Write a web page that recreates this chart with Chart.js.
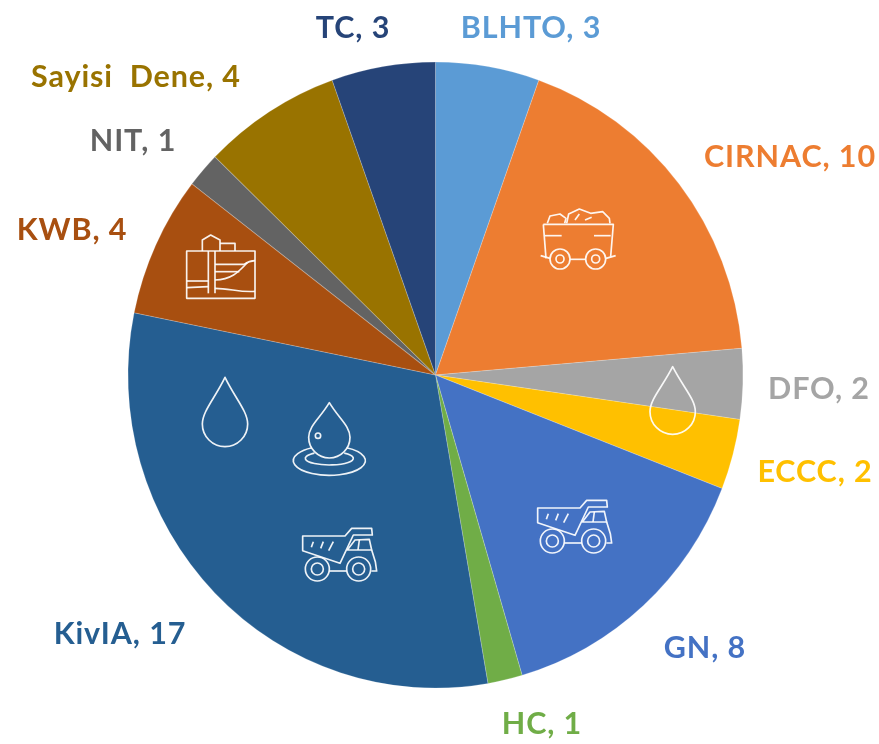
<!DOCTYPE html>
<html><head><meta charset="utf-8">
<style>html,body{margin:0;padding:0;background:#fff}canvas{display:block}</style>
<script src="https://cdn.jsdelivr.net/npm/chart.js@4"></script></head>
<body><canvas id="c" width="879" height="744"></canvas>
<script>
const categories = ["BLHTO","CIRNAC","DFO","ECCC","GN","HC","KivIA","KWB","NIT","Sayisi  Dene","TC"];
const values = [3,10,2,2,8,1,17,4,1,4,3];
const colors = ["#5B9BD5","#ED7D31","#A5A5A5","#FFC000","#4472C4","#70AD47","#255E91","#A84F10","#636363","#997300","#264478"];
const labelX = [531,790,819,815,705,542,120,72,133,136,353];
const labelY = [28,157,389,472,648,724,634,230,141,77,28];
const cx=435.5, cy=375, stretch=313/307.5;

function P(c,pts,close){c.beginPath();pts.forEach((p,i)=>i?c.lineTo(p[0],p[1]):c.moveTo(p[0],p[1]));if(close)c.closePath();c.stroke();}
function circ(c,x,y,r){c.beginPath();c.arc(x,y,r,0,Math.PI*2);c.stroke();}
function icon(c,ox,oy,fn){c.save();c.translate(ox,oy);c.scale(1/3,1/3);c.lineWidth=5;c.strokeStyle="rgba(255,255,255,.92)";c.lineJoin="round";fn(c);c.restore();}
function drop(c,x,tip,yc,r){c.beginPath();c.moveTo(x,tip);c.bezierCurveTo(x+r*.45,tip+(yc-tip)*.45,x+r,yc-r*.55,x+r,yc);c.arc(x,yc,r,0,Math.PI);c.bezierCurveTo(x-r,yc-r*.55,x-r*.45,tip+(yc-tip)*.45,x,tip);c.closePath();c.stroke();}
function truck(c){
 P(c,[[38,138],[165,138],[185,115],[245,115],[247,135],[190,135],[150,220],[38,182]],true);
 P(c,[[195,150],[238,148],[245,180],[172,180]],true);
 P(c,[[208,150],[204,180]]);
 P(c,[[245,180],[256,215],[260,243],[244,243]]);
 P(c,[[70,155],[64,172]]);P(c,[[100,155],[92,175]]);P(c,[[130,155],[116,182]]);
 P(c,[[118,243],[170,243]]);
 circ(c,82,237,36);circ(c,82,237,18);circ(c,206,237,36);circ(c,206,237,18);
}
function cart(c){
 P(c,[[70,103],[280,103],[272,200]]);P(c,[[70,103],[78,205]]);
 P(c,[[75,137],[125,137]]);P(c,[[222,137],[272,137]]);
 P(c,[[62,197],[90,205]]);P(c,[[258,205],[287,197]]);P(c,[[150,208],[197,208]]);
 P(c,[[82,100],[90,78],[120,72],[138,85],[134,100]]);
 P(c,[[140,100],[146,72],[178,57],[212,70],[248,65],[268,85],[270,100]]);
 P(c,[[165,90],[178,72]]);P(c,[[195,90],[215,82]]);
 circ(c,120,207,30);circ(c,120,207,12);circ(c,227,207,30);circ(c,227,207,12);
}
function plant(c){
 c.strokeRect(50,93,205,142);
 P(c,[[97,93],[97,60],[122,45],[150,60],[150,93]]);
 P(c,[[150,70],[195,70],[195,93]]);
 P(c,[[115,93],[115,220]]);P(c,[[135,93],[135,220]]);
 P(c,[[50,183],[115,183]]);P(c,[[50,203],[115,200]]);
 c.beginPath();c.moveTo(135,133);c.lineTo(222,133);c.quadraticCurveTo(238,122,255,122);c.stroke();
 P(c,[[135,155],[208,155]]);
 c.beginPath();c.moveTo(135,180);c.bezierCurveTo(190,178,210,150,232,128);c.stroke();
 c.beginPath();c.moveTo(135,205);c.bezierCurveTo(180,205,210,218,255,214);c.stroke();
}
function ripple(c){
 drop(c,478,548,652,62);circ(c,444,647,8);
 c.beginPath();c.ellipse(478,722,108,44,0,-1.07,Math.PI+1.07);c.stroke();
 c.beginPath();c.ellipse(478,715,72,20,0,-0.9,Math.PI+0.9);c.stroke();
}
const stretchPie={id:"stretchPie",
 beforeDatasetsDraw(ch){const c=ch.ctx;c.save();c.translate(cx,cy);c.scale(1,stretch);c.translate(-cx,-cy);},
 afterDatasetsDraw(ch){ch.ctx.restore();}};
const decor={id:"decor",afterDraw(ch){
 const c=ch.ctx;c.save();
 c.font='bold 30.5px Lato, "Open Sans", sans-serif';c.letterSpacing="0.9px";c.textAlign="center";c.textBaseline="middle";
 categories.forEach((n,i)=>{c.fillStyle=colors[i];c.fillText(n+", "+values[i],labelX[i],labelY[i]);});
 c.letterSpacing="0px";
 icon(c,290,490,truck);
 icon(c,525,462,truck);
 icon(c,520,190,cart);
 icon(c,170,220,plant);
 icon(c,170,220,x=>drop(x,165,472,612,68));
 icon(c,170,220,ripple);
 icon(c,520,190,x=>drop(x,458,530,665,68));
 c.restore();
}};
new Chart(document.getElementById("c"),{type:"pie",
 data:{labels:categories,datasets:[{data:values,backgroundColor:colors,borderColor:"rgba(255,255,255,.2)",borderWidth:1,clip:false}]},
 options:{responsive:false,animation:false,
  layout:{padding:{left:cx-308,right:879-(cx+308),top:cy-308,bottom:744-(cy+308)}},
  plugins:{legend:{display:false},tooltip:{enabled:false}}},
 plugins:[stretchPie,decor]});
</script></body></html>
